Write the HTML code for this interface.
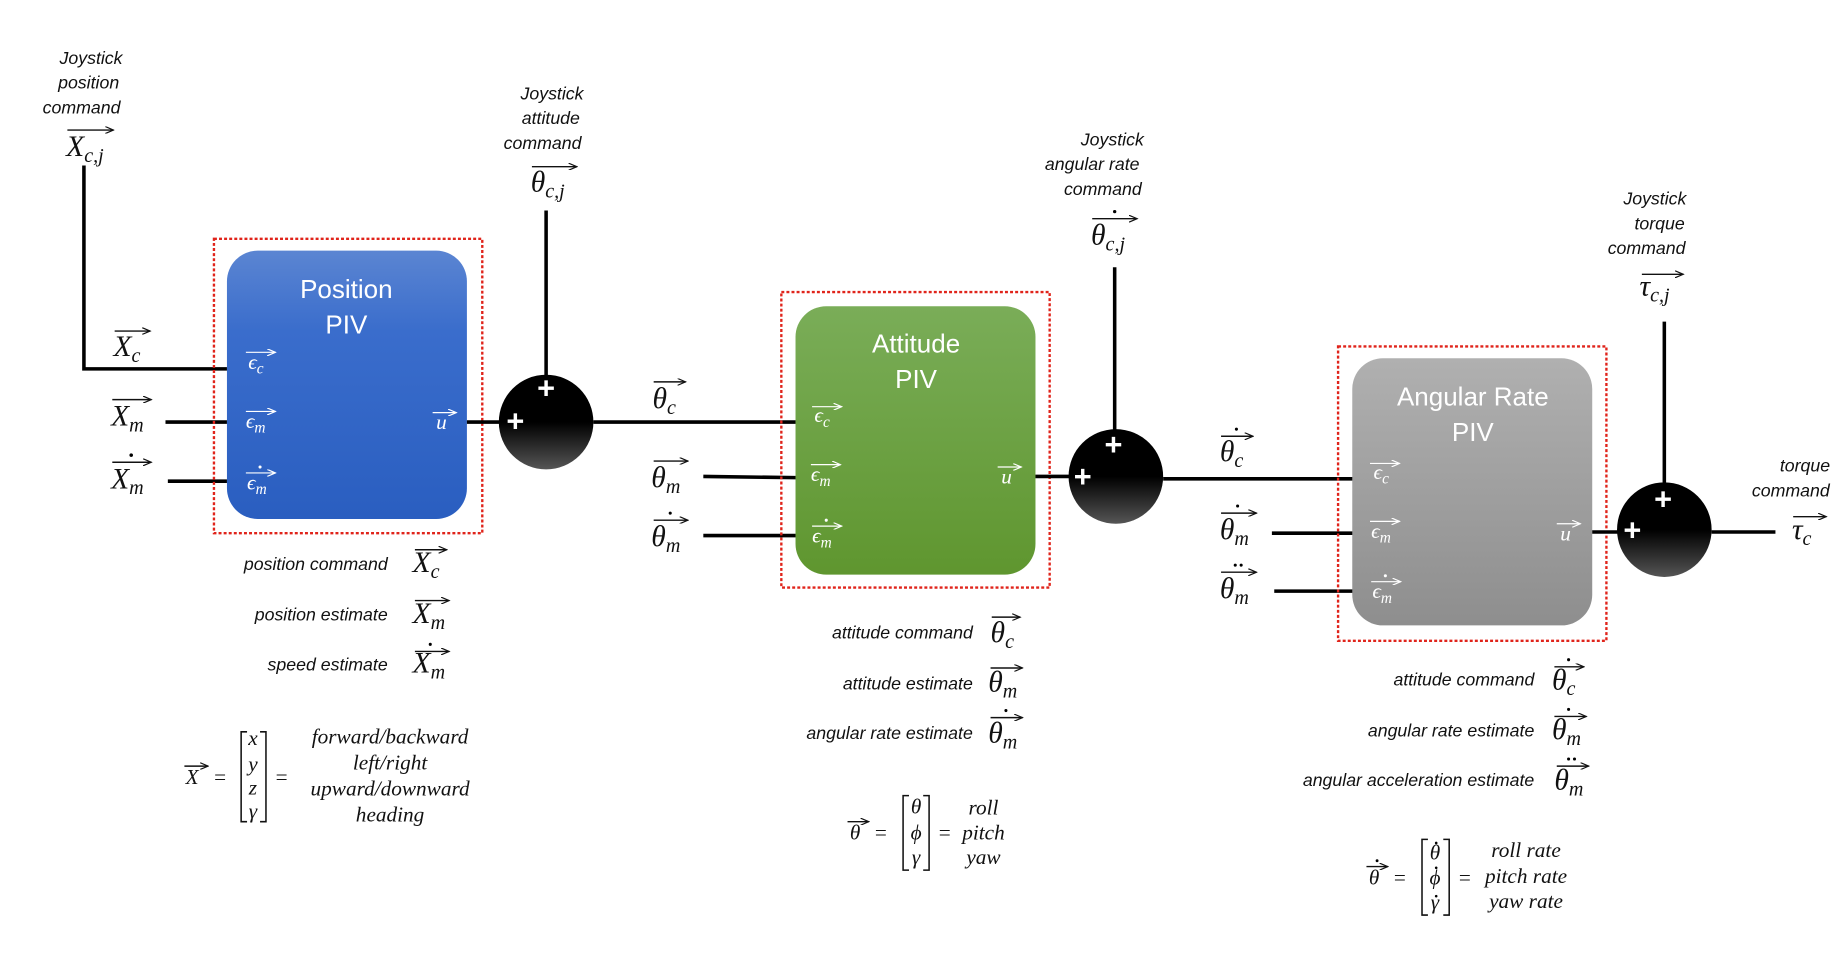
<!DOCTYPE html>
<html><head><meta charset="utf-8"><style>
html,body{margin:0;padding:0;background:#fff;width:1844px;height:960px;overflow:hidden}
svg{display:block}
.t{font-family:"Liberation Sans",sans-serif;font-style:italic;font-size:15px;fill:#111}
.m{font-family:"Liberation Serif",serif;font-style:italic;font-size:25px;fill:#111}
.s{font-size:17px}
.w{font-family:"Liberation Sans",sans-serif;font-size:22px;fill:#fff}
.wm{font-family:"Liberation Serif",serif;font-style:italic;font-size:18px;fill:#fff}
.ws{font-size:13px}
.k{stroke:#000;stroke-width:3;fill:none}
.a{stroke:#111;stroke-width:1.2}
.aw{stroke:#fff;stroke-width:1}
.r{fill:none;stroke:#e0241b;stroke-width:2;stroke-dasharray:2.5 1.8}
.mt{font-family:"Liberation Serif",serif;font-style:italic;font-size:18px;fill:#111}
</style></head><body>
<svg width="1844" height="960" viewBox="0 0 1560 812" preserveAspectRatio="none" xmlns="http://www.w3.org/2000/svg">
<defs>
<marker id="ar" markerWidth="8" markerHeight="6" refX="7" refY="3" orient="auto" markerUnits="userSpaceOnUse"><path d="M0,0 L7,3 L0,6" fill="none" stroke="#111" stroke-width="1"/></marker>
<marker id="aw" markerWidth="8" markerHeight="6" refX="7" refY="3" orient="auto" markerUnits="userSpaceOnUse"><path d="M0,0 L7,3 L0,6" fill="none" stroke="#fff" stroke-width="1"/></marker>
<linearGradient id="gb" x1="0" y1="0" x2="0" y2="1"><stop offset="0" stop-color="#5b85d2"/><stop offset="0.3" stop-color="#3a6dcc"/><stop offset="1" stop-color="#2a5ec0"/></linearGradient>
<linearGradient id="gg" x1="0" y1="0" x2="0" y2="1"><stop offset="0" stop-color="#7aad58"/><stop offset="1" stop-color="#5f962f"/></linearGradient>
<linearGradient id="gr" x1="0" y1="0" x2="0" y2="1"><stop offset="0" stop-color="#b0b0b0"/><stop offset="1" stop-color="#8e8e8e"/></linearGradient>
<linearGradient id="gs" x1="0" y1="0" x2="0" y2="1"><stop offset="0" stop-color="#000"/><stop offset="0.5" stop-color="#000"/><stop offset="1" stop-color="#555"/></linearGradient>
</defs>

<text class="t" x="77" y="54" text-anchor="middle">Joystick</text>
<text class="t" x="75" y="75" text-anchor="middle">position</text>
<text class="t" x="69" y="96" text-anchor="middle">command</text>
<line class="a" x1="57" y1="110" x2="96" y2="110" marker-end="url(#ar)"/>
<text class="m" x="56" y="132">X<tspan class="s" dy="5">c,j</tspan></text>

<polyline class="k" points="71,140 71,312 192,312"/>
<line class="k" x1="140" y1="357" x2="192" y2="357"/>
<line class="k" x1="142" y1="407" x2="192" y2="407"/>
<line class="a" x1="97" y1="280" x2="127" y2="280" marker-end="url(#ar)"/>
<text class="m" x="96" y="301">X<tspan class="s" dy="5">c</tspan></text>
<line class="a" x1="95" y1="338" x2="128" y2="338" marker-end="url(#ar)"/>
<text class="m" x="94" y="360">X<tspan class="s" dy="5">m</tspan></text>
<line class="a" x1="95" y1="391" x2="128" y2="391" marker-end="url(#ar)"/>
<circle cx="111" cy="385" r="1.5"/>
<text class="m" x="94" y="413">X<tspan class="s" dy="5">m</tspan></text>

<rect class="r" x="181" y="202" width="227" height="249"/>
<rect x="192" y="212" width="203" height="227" rx="26" fill="url(#gb)"/>
<text class="w" x="293" y="252" text-anchor="middle">Position</text>
<text class="w" x="293" y="282" text-anchor="middle">PIV</text>
<line class="aw" x1="208" y1="298" x2="233" y2="298" marker-end="url(#aw)"/>
<text class="wm" x="210" y="312">ϵ<tspan class="ws" dy="4">c</tspan></text>
<line class="aw" x1="208" y1="348" x2="233" y2="348" marker-end="url(#aw)"/>
<text class="wm" x="208" y="362">ϵ<tspan class="ws" dy="4">m</tspan></text>
<line class="aw" x1="208" y1="400" x2="233" y2="400" marker-end="url(#aw)"/>
<circle cx="220" cy="395" r="1.3" fill="#fff"/>
<text class="wm" x="209" y="414">ϵ<tspan class="ws" dy="4">m</tspan></text>
<line class="aw" x1="366" y1="349" x2="386" y2="349" marker-end="url(#aw)"/>
<text class="wm" x="369" y="363">u</text>

<line class="k" x1="395" y1="357" x2="425" y2="357"/>
<line class="k" x1="462" y1="178" x2="462" y2="318"/>
<ellipse cx="462" cy="357" rx="40" ry="40" fill="url(#gs)"/>
<text x="462" y="337" fill="#fff" font-family="Liberation Sans" font-size="26" font-weight="bold" text-anchor="middle">+</text>
<text x="436" y="365" fill="#fff" font-family="Liberation Sans" font-size="26" font-weight="bold" text-anchor="middle">+</text>

<text class="t" x="467" y="84" text-anchor="middle">Joystick</text>
<text class="t" x="466" y="105" text-anchor="middle">attitude</text>
<text class="t" x="459" y="126" text-anchor="middle">command</text>
<line class="a" x1="450" y1="141" x2="488" y2="141" marker-end="url(#ar)"/>
<text class="m" x="449" y="162">θ<tspan class="s" dy="5">c,j</tspan></text>

<text class="t" x="328" y="482" text-anchor="end">position command</text>
<text class="t" x="328" y="525" text-anchor="end">position estimate</text>
<text class="t" x="328" y="567" text-anchor="end">speed estimate</text>
<line class="a" x1="351" y1="465" x2="378" y2="465" marker-end="url(#ar)"/>
<text class="m" x="349" y="484">X<tspan class="s" dy="5">c</tspan></text>
<line class="a" x1="351" y1="508" x2="380" y2="508" marker-end="url(#ar)"/>
<text class="m" x="349" y="527">X<tspan class="s" dy="5">m</tspan></text>
<line class="a" x1="351" y1="551" x2="380" y2="551" marker-end="url(#ar)"/>
<circle cx="364" cy="545" r="1.3"/>
<text class="m" x="349" y="569">X<tspan class="s" dy="5">m</tspan></text>

<line class="a" x1="156" y1="648" x2="176" y2="648" marker-end="url(#ar)"/>
<text class="mt" x="157" y="663">X</text>
<text class="mt" x="180" y="663">=</text>
<path d="M209,619 H204 V695 H209 M220,619 H225 V695 H220" fill="none" stroke="#111" stroke-width="1.3"/>
<text class="mt" x="214" y="630" text-anchor="middle" font-size="15">x</text>
<text class="mt" x="214" y="652" text-anchor="middle" font-size="15">y</text>
<text class="mt" x="214" y="672" text-anchor="middle" font-size="15">z</text>
<text class="mt" x="214" y="692" text-anchor="middle" font-size="15">γ</text>
<text class="mt" x="232" y="663">=</text>
<text class="mt" x="330" y="629" text-anchor="middle">forward/backward</text>
<text class="mt" x="330" y="651" text-anchor="middle">left/right</text>
<text class="mt" x="330" y="673" text-anchor="middle">upward/downward</text>
<text class="mt" x="330" y="695" text-anchor="middle">heading</text>

<line class="k" x1="502" y1="357" x2="673" y2="357"/>
<line class="k" x1="595" y1="403" x2="673" y2="404"/>
<line class="k" x1="595" y1="453" x2="673" y2="453"/>
<line class="a" x1="553" y1="323" x2="580" y2="323" marker-end="url(#ar)"/>
<text class="m" x="552" y="345">θ<tspan class="s" dy="5">c</tspan></text>
<line class="a" x1="553" y1="390" x2="582" y2="390" marker-end="url(#ar)"/>
<text class="m" x="551" y="412">θ<tspan class="s" dy="5">m</tspan></text>
<line class="a" x1="553" y1="440" x2="582" y2="440" marker-end="url(#ar)"/>
<circle cx="567" cy="434" r="1.3"/>
<text class="m" x="551" y="462">θ<tspan class="s" dy="5">m</tspan></text>

<rect class="r" x="661" y="247" width="227" height="250"/>
<rect x="673" y="259" width="203" height="227" rx="26" fill="url(#gg)"/>
<text class="w" x="775" y="298" text-anchor="middle">Attitude</text>
<text class="w" x="775" y="328" text-anchor="middle">PIV</text>
<line class="aw" x1="687" y1="344" x2="712" y2="344" marker-end="url(#aw)"/>
<text class="wm" x="689" y="357">ϵ<tspan class="ws" dy="4">c</tspan></text>
<line class="aw" x1="686" y1="393" x2="711" y2="393" marker-end="url(#aw)"/>
<text class="wm" x="686" y="407">ϵ<tspan class="ws" dy="4">m</tspan></text>
<line class="aw" x1="687" y1="445" x2="712" y2="445" marker-end="url(#aw)"/>
<circle cx="699" cy="440" r="1.3" fill="#fff"/>
<text class="wm" x="687" y="459">ϵ<tspan class="ws" dy="4">m</tspan></text>
<line class="aw" x1="844" y1="395" x2="864" y2="395" marker-end="url(#aw)"/>
<text class="wm" x="847" y="409">u</text>

<line class="k" x1="876" y1="403" x2="905" y2="403"/>
<line class="k" x1="943" y1="226" x2="943" y2="364"/>
<ellipse cx="944" cy="403" rx="40" ry="40" fill="url(#gs)"/>
<text x="942" y="385" fill="#fff" font-family="Liberation Sans" font-size="26" font-weight="bold" text-anchor="middle">+</text>
<text x="916" y="412" fill="#fff" font-family="Liberation Sans" font-size="26" font-weight="bold" text-anchor="middle">+</text>

<text class="t" x="941" y="123" text-anchor="middle">Joystick</text>
<text class="t" x="924" y="144" text-anchor="middle">angular rate</text>
<text class="t" x="933" y="165" text-anchor="middle">command</text>
<line class="a" x1="924" y1="185" x2="962" y2="185" marker-end="url(#ar)"/>
<circle cx="943" cy="179" r="1.4"/>
<text class="m" x="923" y="207">θ<tspan class="s" dy="5">c,j</tspan></text>

<text class="t" x="823" y="540" text-anchor="end">attitude command</text>
<text class="t" x="823" y="583" text-anchor="end">attitude estimate</text>
<text class="t" x="823" y="625" text-anchor="end">angular rate estimate</text>
<line class="a" x1="839" y1="522" x2="863" y2="522" marker-end="url(#ar)"/>
<text class="m" x="838" y="543">θ<tspan class="s" dy="5">c</tspan></text>
<line class="a" x1="838" y1="565" x2="865" y2="565" marker-end="url(#ar)"/>
<text class="m" x="836" y="585">θ<tspan class="s" dy="5">m</tspan></text>
<line class="a" x1="838" y1="607" x2="865" y2="607" marker-end="url(#ar)"/>
<circle cx="851" cy="601" r="1.3"/>
<text class="m" x="836" y="628">θ<tspan class="s" dy="5">m</tspan></text>

<line class="a" x1="717" y1="695" x2="735" y2="695" marker-end="url(#ar)"/>
<text class="mt" x="719" y="710">θ</text>
<text class="mt" x="739" y="710">=</text>
<path d="M769,673 H764 V736 H769 M781,673 H786 V736 H781" fill="none" stroke="#111" stroke-width="1.3"/>
<text class="mt" x="775" y="688" text-anchor="middle" font-size="15">θ</text>
<text class="mt" x="775" y="710" text-anchor="middle" font-size="15">ϕ</text>
<text class="mt" x="775" y="731" text-anchor="middle" font-size="15">γ</text>
<text class="mt" x="793" y="710">=</text>
<text class="mt" x="832" y="689" text-anchor="middle">roll</text>
<text class="mt" x="832" y="710" text-anchor="middle">pitch</text>
<text class="mt" x="832" y="731" text-anchor="middle">yaw</text>

<line class="k" x1="984" y1="405" x2="1145" y2="405"/>
<line class="k" x1="1076" y1="451" x2="1145" y2="451"/>
<line class="k" x1="1078" y1="500" x2="1145" y2="500"/>
<line class="a" x1="1033" y1="369" x2="1060" y2="369" marker-end="url(#ar)"/>
<circle cx="1046" cy="363" r="1.3"/>
<text class="m" x="1032" y="390">θ<tspan class="s" dy="5">c</tspan></text>
<line class="a" x1="1033" y1="434" x2="1063" y2="434" marker-end="url(#ar)"/>
<circle cx="1047" cy="428" r="1.3"/>
<text class="m" x="1032" y="456">θ<tspan class="s" dy="5">m</tspan></text>
<line class="a" x1="1033" y1="484" x2="1063" y2="484" marker-end="url(#ar)"/>
<circle cx="1045" cy="478" r="1.3"/><circle cx="1050" cy="478" r="1.3"/>
<text class="m" x="1032" y="506">θ<tspan class="s" dy="5">m</tspan></text>

<rect class="r" x="1132" y="293" width="227" height="249"/>
<rect x="1144" y="303" width="203" height="226" rx="26" fill="url(#gr)"/>
<text class="w" x="1246" y="343" text-anchor="middle">Angular Rate</text>
<text class="w" x="1246" y="373" text-anchor="middle">PIV</text>
<line class="aw" x1="1159" y1="392" x2="1184" y2="392" marker-end="url(#aw)"/>
<text class="wm" x="1162" y="405">ϵ<tspan class="ws" dy="4">c</tspan></text>
<line class="aw" x1="1159" y1="441" x2="1184" y2="441" marker-end="url(#aw)"/>
<text class="wm" x="1160" y="455">ϵ<tspan class="ws" dy="4">m</tspan></text>
<line class="aw" x1="1160" y1="492" x2="1185" y2="492" marker-end="url(#aw)"/>
<circle cx="1172" cy="487" r="1.3" fill="#fff"/>
<text class="wm" x="1161" y="506">ϵ<tspan class="ws" dy="4">m</tspan></text>
<line class="aw" x1="1317" y1="443" x2="1337" y2="443" marker-end="url(#aw)"/>
<text class="wm" x="1320" y="457">u</text>

<line class="k" x1="1347" y1="450" x2="1370" y2="450"/>
<line class="k" x1="1408" y1="272" x2="1408" y2="410"/>
<ellipse cx="1408" cy="448" rx="40" ry="40" fill="url(#gs)"/>
<text x="1407" y="431" fill="#fff" font-family="Liberation Sans" font-size="26" font-weight="bold" text-anchor="middle">+</text>
<text x="1381" y="457" fill="#fff" font-family="Liberation Sans" font-size="26" font-weight="bold" text-anchor="middle">+</text>
<line class="k" x1="1448" y1="450" x2="1502" y2="450"/>

<text class="t" x="1400" y="173" text-anchor="middle">Joystick</text>
<text class="t" x="1404" y="194" text-anchor="middle">torque</text>
<text class="t" x="1393" y="215" text-anchor="middle">command</text>
<line class="a" x1="1389" y1="232" x2="1424" y2="232" marker-end="url(#ar)"/>
<text class="m" x="1387" y="250">τ<tspan class="s" dy="5">c,j</tspan></text>

<text class="t" x="1527" y="399" text-anchor="middle">torque</text>
<text class="t" x="1515" y="420" text-anchor="middle">command</text>
<line class="a" x1="1517" y1="437" x2="1545" y2="437" marker-end="url(#ar)"/>
<text class="m" x="1516" y="456">τ<tspan class="s" dy="5">c</tspan></text>

<text class="t" x="1298" y="580" text-anchor="end">attitude command</text>
<text class="t" x="1298" y="623" text-anchor="end">angular rate estimate</text>
<text class="t" x="1298" y="665" text-anchor="end">angular acceleration estimate</text>
<line class="a" x1="1315" y1="564" x2="1340" y2="564" marker-end="url(#ar)"/>
<circle cx="1327" cy="558" r="1.3"/>
<text class="m" x="1313" y="583">θ<tspan class="s" dy="5">c</tspan></text>
<line class="a" x1="1315" y1="606" x2="1342" y2="606" marker-end="url(#ar)"/>
<circle cx="1327" cy="600" r="1.3"/>
<text class="m" x="1313" y="625">θ<tspan class="s" dy="5">m</tspan></text>
<line class="a" x1="1317" y1="648" x2="1344" y2="648" marker-end="url(#ar)"/>
<circle cx="1327" cy="642" r="1.3"/><circle cx="1332" cy="642" r="1.3"/>
<text class="m" x="1315" y="668">θ<tspan class="s" dy="5">m</tspan></text>

<line class="a" x1="1156" y1="733" x2="1174" y2="733" marker-end="url(#ar)"/>
<circle cx="1165" cy="728" r="1.2"/>
<text class="mt" x="1158" y="748">θ</text>
<text class="mt" x="1178" y="748">=</text>
<path d="M1208,710 H1203 V774 H1208 M1221,710 H1226 V774 H1221" fill="none" stroke="#111" stroke-width="1.3"/>
<circle cx="1215" cy="713" r="1.1"/>
<text class="mt" x="1214" y="727" text-anchor="middle" font-size="15">θ</text>
<circle cx="1215" cy="734" r="1.1"/>
<text class="mt" x="1214" y="748" text-anchor="middle" font-size="15">ϕ</text>
<circle cx="1215" cy="758" r="1.1"/>
<text class="mt" x="1214" y="769" text-anchor="middle" font-size="15">γ</text>
<text class="mt" x="1233" y="748">=</text>
<text class="mt" x="1291" y="725" text-anchor="middle">roll rate</text>
<text class="mt" x="1291" y="747" text-anchor="middle">pitch rate</text>
<text class="mt" x="1291" y="768" text-anchor="middle">yaw rate</text>
</svg>
</body></html>
